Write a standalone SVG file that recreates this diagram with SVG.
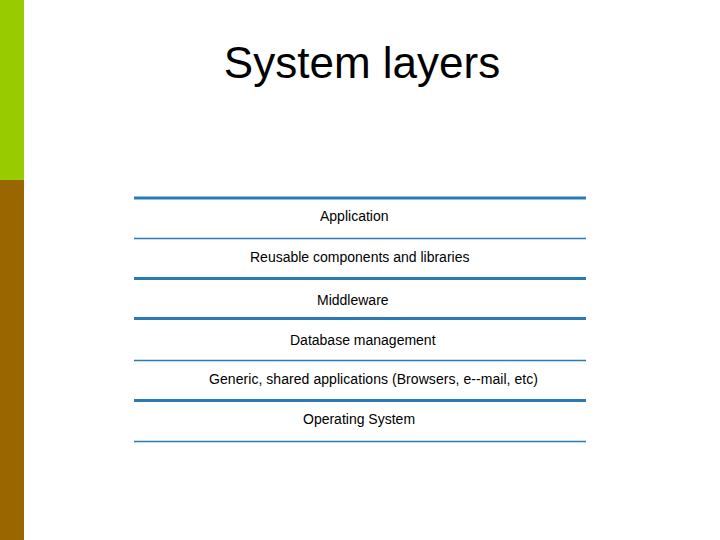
<svg xmlns="http://www.w3.org/2000/svg" width="720" height="540" viewBox="0 0 720 540">
<style>
.t{font-family:"Liberation Sans",Arial,sans-serif;font-size:14px;fill:#000}
.thick{stroke:#2A7AB8;stroke-width:3}
.thin{stroke:#2A7AB8;stroke-width:1.5}
</style>
<rect width="720" height="540" fill="#fff"/>
<rect x="0" y="0" width="24" height="180" fill="#99CC00"/>
<rect x="0" y="180" width="24" height="360" fill="#996600"/>
<text x="362" y="78" text-anchor="middle" font-family="Liberation Sans,Arial,sans-serif" font-size="44" fill="#000">System layers</text>
<g id="connectors">
<line class="thick" x1="134" y1="198" x2="586" y2="198"/>
<line class="thin" x1="134" y1="238.5" x2="586" y2="238.5"/>
<line class="thick" x1="134" y1="278.5" x2="586" y2="278.5"/>
<line class="thick" x1="134" y1="318.5" x2="586" y2="318.5"/>
<line class="thin" x1="134" y1="360.5" x2="586" y2="360.5"/>
<line class="thick" x1="134" y1="400.5" x2="586" y2="400.5"/>
<line class="thin" x1="134" y1="441.5" x2="586" y2="441.5"/>
</g>
<g id="application"><text class="t" x="320" y="221">Application</text></g>
<g id="reusable"><text class="t" x="250" y="262">Reusable components and libraries</text></g>
<g id="middleware"><text class="t" x="317" y="305">Middleware</text></g>
<g id="database"><text class="t" x="290" y="345">Database management</text></g>
<g id="generic"><text class="t" x="209" y="384" textLength="329">Generic, shared applications (Browsers, e--mail, etc)</text></g>
<g id="os"><text class="t" x="303" y="424">Operating System</text></g>
</svg>
